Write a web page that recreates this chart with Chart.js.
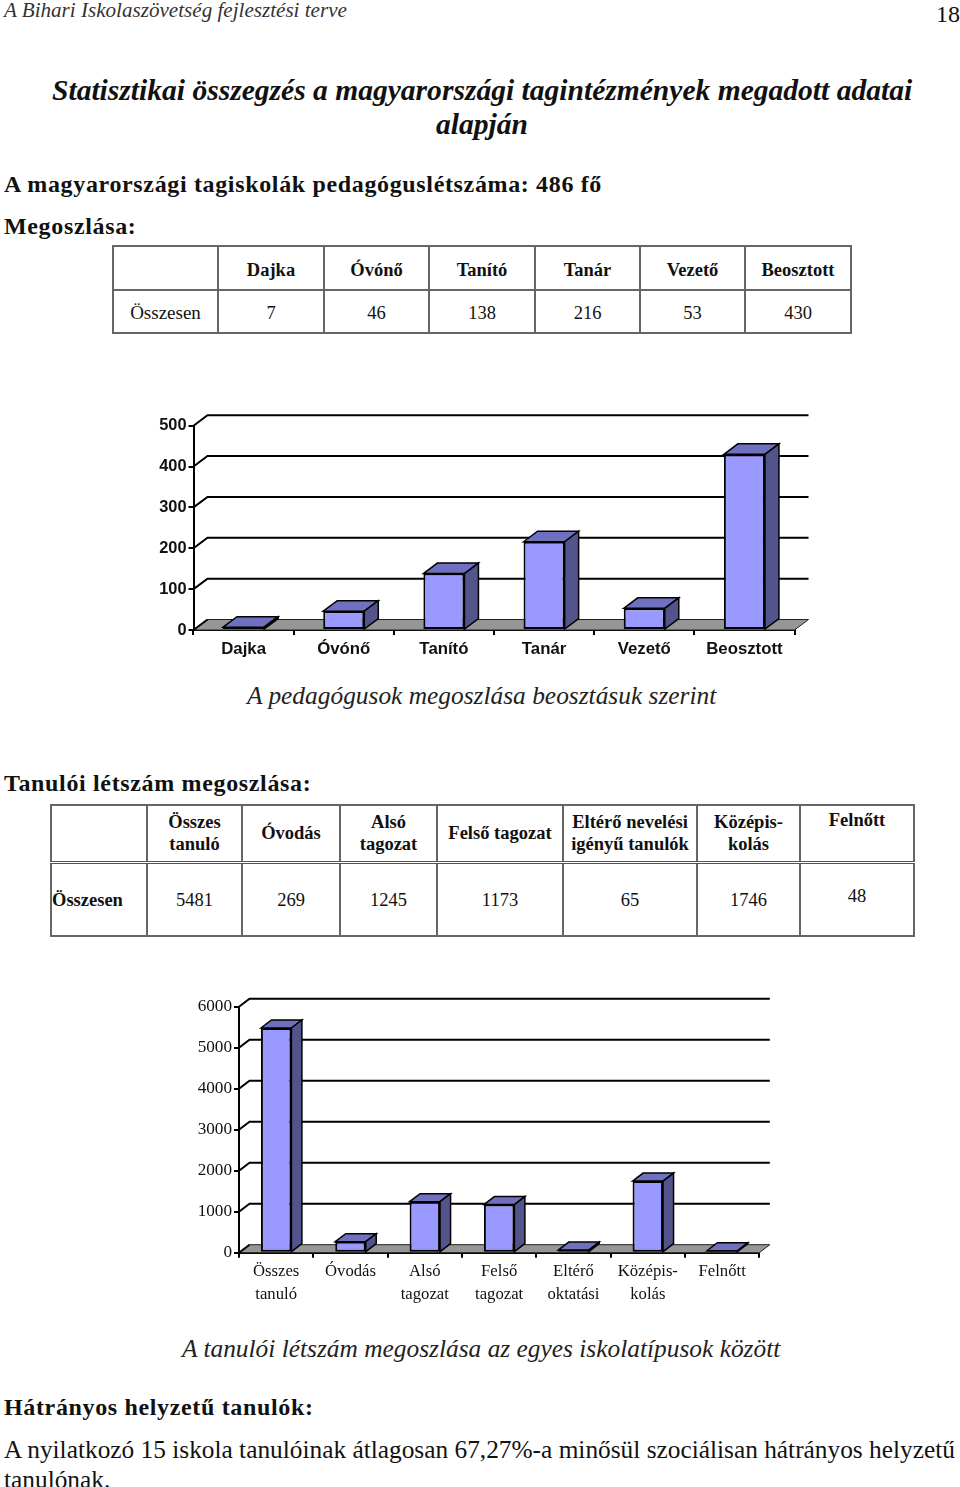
<!DOCTYPE html>
<html lang="hu">
<head>
<meta charset="utf-8">
<title>A Bihari Iskolaszövetség fejlesztési terve</title>
<script src="https://cdn.jsdelivr.net/npm/chart.js@4"></script>
<style>
  html, body { margin: 0; padding: 0; background: #fff; }
  body { position: relative; width: 960px; height: 1487px; overflow: hidden; font-family: "Liberation Serif", serif; color: #111; }
  .t { position: absolute; white-space: nowrap; line-height: 1; }
  .b { font-weight: bold; }
  .i { font-style: italic; }
  .h { font-weight: bold; font-size: 24px; letter-spacing: .65px; }
  canvas { position: absolute; }
  table { position: absolute; border-collapse: collapse; table-layout: fixed; border: 2px solid #555; }
  td { border: 2px solid #666; text-align: center; padding: 0; font-size: 18.5px; line-height: 22px; color: #111; }
  #table1 td { padding-top: 3px; }
  #table2 tr:first-child td { border-bottom: 3px double #555; }
</style>
</head>
<body>
<div class="t i" style="left:4px;top:0px;font-size:21.1px;color:#333">A Bihari Iskolaszövetség fejlesztési terve</div>
<div class="t" style="left:936px;top:2px;font-size:24px">18</div>
<div class="t b i" style="left:52px;top:76px;font-size:29.55px">Statisztikai összegzés a magyarországi tagintézmények megadott adatai</div>
<div class="t b i" style="left:436px;top:110px;font-size:29.55px">alapján</div>
<div class="t h" style="left:4px;top:172px">A magyarországi tagiskolák pedagóguslétszáma: 486 fő</div>
<div class="t h" style="left:4px;top:214px">Megoszlása:</div>

<table id="table1" style="left:112px;top:245px"></table>
<canvas id="chart1" style="left:150px;top:400px"></canvas>
<div class="t i" style="left:247px;top:683px;font-size:25.4px;color:#222">A pedagógusok megoszlása beosztásuk szerint</div>

<div class="t h" style="left:4px;top:771px">Tanulói létszám megoszlása:</div>
<table id="table2" style="left:50px;top:804px"></table>
<canvas id="chart2" style="left:190px;top:985px"></canvas>
<div class="t i" style="left:182px;top:1336px;font-size:25.4px;color:#222">A tanulói létszám megoszlása az egyes iskolatípusok között</div>

<div class="t h" style="left:4px;top:1395px">Hátrányos helyzetű tanulók:</div>
<div class="t" style="left:4px;top:1437px;font-size:25.35px">A nyilatkozó 15 iskola tanulóinak átlagosan 67,27%-a minősül szociálisan hátrányos helyzetű</div>
<div class="t" style="left:4px;top:1467px;font-size:25.35px">tanulónak.</div>

<script>
// elso tablazat es diagram
var staffLabels = ["Dajka", "Óvónő", "Tanító", "Tanár", "Vezető", "Beosztott"];
var staffValues = [7, 46, 138, 216, 53, 430];
var staffTicks = [0, 100, 200, 300, 400, 500];

// masodik tablazat
var studentHeaders = ["Összes<br>tanuló", "Óvodás", "Alsó<br>tagozat", "Felső tagozat", "Eltérő nevelési<br>igényű tanulók", "Középis-<br>kolás", "Felnőtt"];
var studentValues = [5481, 269, 1245, 1173, 65, 1746, 48];

// masodik diagram
var studentLabels = [["Összes", "tanuló"], "Óvodás", ["Alsó", "tagozat"], ["Felső", "tagozat"], ["Eltérő", "oktatási"], ["Középis-", "kolás"], "Felnőtt"];
var studentTicks = [0, 1000, 2000, 3000, 4000, 5000, 6000];

var table1Cols = [105, 106, 105, 106, 105, 105, 106];
var table2Cols = [96, 95, 98, 97, 126, 134, 103, 114];

function fillTable(id, cols, rows) {
  var table = document.getElementById(id);
  var html = "<colgroup>";
  cols.forEach(function (w) { html += '<col style="width:' + w + 'px">'; });
  html += "</colgroup>";
  rows.forEach(function (r) {
    html += '<tr style="height:' + r.h + 'px">';
    r.cells.forEach(function (c) { html += "<td" + (c.style ? ' style="' + c.style + '"' : "") + ">" + c.text + "</td>"; });
    html += "</tr>";
  });
  table.innerHTML = html;
  table.style.width = cols.reduce(function (a, b) { return a + b; }, 0) + "px";
}

fillTable("table1", table1Cols, [
  { h: 44, cells: [{ text: "" }].concat(staffLabels.map(function (s) { return { text: "<b>" + s + "</b>" }; })) },
  { h: 43, cells: [{ text: "Összesen", style: "font-size:19px" }].concat(staffValues.map(function (v) { return { text: v }; })) }
]);

fillTable("table2", table2Cols, [
  { h: 57, cells: [{ text: "" }].concat(studentHeaders.map(function (s, i) {
    return { text: "<b>" + s + "</b>", style: i == 6 ? "vertical-align:top;padding-top:3px" : "" };
  })) },
  { h: 74, cells: [{ text: "<b>Összesen</b>", style: "text-align:left;padding-top:2px" }].concat(studentValues.map(function (v, i) {
    return { text: v, style: i == 6 ? "vertical-align:top;padding-top:21px" : "padding-top:2px" };
  })) }
]);

// hamis 3D: hatfal, padlo es a hasabok oldala
var depth3d = {
  id: "depth3d",
  beforeDatasetsDraw: function (chart, args, opts) {
    var ctx = chart.ctx, x = chart.scales.x, y = chart.scales.y;
    var dx = opts.dx, dy = opts.dy;
    ctx.save();
    ctx.lineJoin = "miter";

    // padlo
    ctx.beginPath();
    ctx.moveTo(x.left, y.bottom);
    ctx.lineTo(x.left + dx, y.bottom - dy);
    ctx.lineTo(x.right + dx, y.bottom - dy);
    ctx.lineTo(x.right, y.bottom);
    ctx.closePath();
    ctx.fillStyle = "#969696";
    ctx.fill();
    ctx.lineWidth = 1;
    ctx.strokeStyle = "#222";
    ctx.stroke();

    // racsvonalak a hatfalon
    ctx.lineWidth = 2;
    ctx.strokeStyle = "#000";
    y.ticks.forEach(function (t) {
      var py = y.getPixelForValue(t.value);
      ctx.beginPath();
      ctx.moveTo(x.left, py);
      ctx.lineTo(x.left + dx, py - dy);
      if (t.value != 0) ctx.lineTo(x.right + dx, py - dy);
      ctx.stroke();
    });

    // hasabok teteje es oldala
    ctx.lineWidth = 1.5;
    chart.getDatasetMeta(0).data.forEach(function (bar) {
      var l = bar.x - bar.width / 2, r = bar.x + bar.width / 2;
      ctx.beginPath();
      ctx.moveTo(l, bar.y);
      ctx.lineTo(l + dx, bar.y - dy);
      ctx.lineTo(r + dx, bar.y - dy);
      ctx.lineTo(r, bar.y);
      ctx.closePath();
      ctx.fillStyle = "#7070C0";
      ctx.fill();
      ctx.stroke();

      ctx.beginPath();
      ctx.moveTo(r, bar.y);
      ctx.lineTo(r + dx, bar.y - dy);
      ctx.lineTo(r + dx, bar.base - dy);
      ctx.lineTo(r, bar.base);
      ctx.closePath();
      ctx.fillStyle = "#54548C";
      ctx.fill();
      ctx.stroke();
    });
    ctx.restore();
  }
};

function makeChart(id, cfg) {
  var canvas = document.getElementById(id);
  canvas.width = cfg.w;
  canvas.height = cfg.h;
  return new Chart(canvas, {
    type: "bar",
    plugins: [depth3d],
    data: {
      labels: cfg.labels,
      datasets: [{
        data: cfg.values,
        backgroundColor: "#9999FF",
        borderColor: "#000",
        borderWidth: 2,
        borderSkipped: false,
        barPercentage: 0.41,
        categoryPercentage: 1
      }]
    },
    options: {
      responsive: false,
      animation: false,
      layout: { padding: { top: cfg.top, right: cfg.right, left: 0, bottom: 0 } },
      plugins: {
        legend: { display: false },
        tooltip: { enabled: false },
        depth3d: { dx: cfg.dx, dy: cfg.dy }
      },
      scales: {
        x: {
          afterFit: function (s) { s.height = cfg.bottom; },
          grid: { drawOnChartArea: false, color: "#000", lineWidth: 2, tickLength: 5 },
          border: { color: "#000", width: 2 },
          ticks: {
            color: cfg.tickColor, font: cfg.xFont, autoSkip: false, maxRotation: 0, padding: cfg.xPad
          }
        },
        y: {
          min: 0,
          max: cfg.ticks[cfg.ticks.length - 1],
          afterFit: function (s) { s.width = cfg.axisLeft; },
          afterBuildTicks: function (s) { s.ticks = cfg.ticks.map(function (v) { return { value: v }; }); },
          grid: { drawOnChartArea: false, color: "#000", lineWidth: 2, tickLength: 5 },
          border: { color: "#000", width: 2 },
          ticks: {
            color: cfg.tickColor, font: cfg.yFont, padding: 2,
            callback: function (v) { return String(v); }
          }
        }
      }
    }
  });
}

makeChart("chart1", {
  w: 670, h: 270, top: 25.7, right: 25.5, bottom: 40, axisLeft: 43.5, dx: 14, dy: 10.5,
  labels: staffLabels, values: staffValues, ticks: staffTicks, tickColor: "#111", xPad: 4,
  xFont: { family: "Liberation Sans", size: 16.8, weight: "bold" },
  yFont: { family: "Liberation Sans", size: 16.4, weight: "bold" }
});

makeChart("chart2", {
  w: 590, h: 325, top: 21.7, right: 20.7, bottom: 57.3, axisLeft: 49, dx: 10.5, dy: 8,
  labels: studentLabels, values: studentValues, ticks: studentTicks, tickColor: "#111", xPad: 3,
  xFont: { family: "Liberation Serif", size: 16.7, lineHeight: 1.35 },
  yFont: { family: "Liberation Serif", size: 17.2 }
});
</script>
</body>
</html>
